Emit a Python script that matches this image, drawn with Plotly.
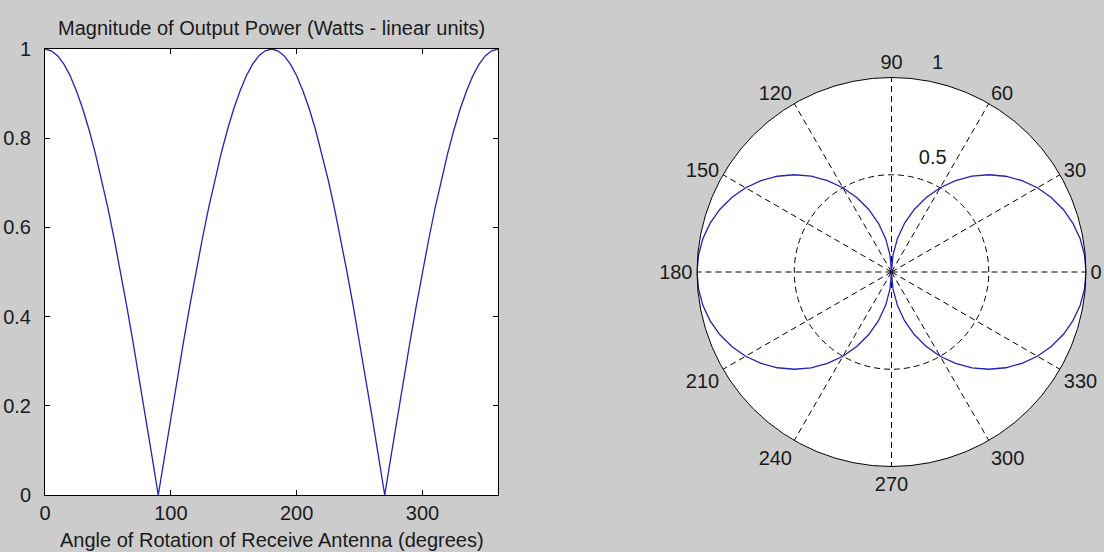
import plotly.graph_objects as go

# Rotation angle of the receive antenna (degrees)
angle_deg = [0, 5, 10, 15, 20, 25, 30, 35, 40, 45, 50, 55, 60, 65, 70, 75, 80, 85,
             90, 95, 100, 105, 110, 115, 120, 125, 130, 135, 140, 145, 150, 155, 160, 165, 170, 175,
             180, 185, 190, 195, 200, 205, 210, 215, 220, 225, 230, 235, 240, 245, 250, 255, 260, 265,
             270, 275, 280, 285, 290, 295, 300, 305, 310, 315, 320, 325, 330, 335, 340, 345, 350, 355,
             360]

# Magnitude of output power (W, linear units)
power_w = [1.000, 0.996, 0.985, 0.966, 0.940, 0.906, 0.866, 0.819, 0.766, 0.707, 0.643, 0.574, 0.500, 0.423,
           0.342, 0.259, 0.174, 0.087,
           0.000, 0.087, 0.174, 0.259, 0.342, 0.423, 0.500, 0.574, 0.643, 0.707, 0.766, 0.819, 0.866, 0.906,
           0.940, 0.966, 0.985, 0.996,
           1.000, 0.996, 0.985, 0.966, 0.940, 0.906, 0.866, 0.819, 0.766, 0.707, 0.643, 0.574, 0.500, 0.423,
           0.342, 0.259, 0.174, 0.087,
           0.000, 0.087, 0.174, 0.259, 0.342, 0.423, 0.500, 0.574, 0.643, 0.707, 0.766, 0.819, 0.866, 0.906,
           0.940, 0.966, 0.985, 0.996,
           1.000]

x_ticks = [0, 100, 200, 300]
y_ticks = [0, 0.2, 0.4, 0.6, 0.8, 1]
y_tick_text = ["0", "0.2", "0.4", "0.6", "0.8", "1"]

polar_angles = [0, 30, 60, 90, 120, 150, 180, 210, 240, 270, 300, 330]
polar_angle_text = [str(a) for a in polar_angles]
inner_ring_label = "0.5"
outer_ring_label = "1"

LINE = "#2222b4"
FONT = dict(family="Liberation Sans, Arial, sans-serif", size=20, color="#1a1a1a")
W, H = 1104, 552

fig = go.Figure()

# Cartesian magnitude plot
fig.add_trace(go.Scatter(
    x=angle_deg, y=power_w, mode="lines",
    line=dict(color=LINE, width=1.3),
    xaxis="x", yaxis="y", showlegend=False, hoverinfo="skip",
))

# Polar pattern of the same data
fig.add_trace(go.Scatterpolar(
    r=power_w, theta=angle_deg, mode="lines",
    line=dict(color=LINE, width=1.3),
    subplot="polar", showlegend=False, hoverinfo="skip",
))

# Inner ring label
fig.add_trace(go.Scatterpolar(
    r=[0.62], theta=[70], mode="text",
    text=[inner_ring_label], textfont=FONT, cliponaxis=False,
    subplot="polar", showlegend=False, hoverinfo="skip",
))

left_px, right_px, top_px, bottom_px = 45, 498, 49, 495
cx, cy, rad = 891.5, 272, 194.5

fig.update_layout(
    width=W, height=H, autosize=False,
    margin=dict(l=0, r=0, t=0, b=0, autoexpand=False),
    paper_bgcolor="#cccccc",
    plot_bgcolor="white",
    font=FONT,
    xaxis=dict(
        domain=[left_px / W, right_px / W],
        range=[0, 360], tickvals=x_ticks, automargin=False,
        showline=True, linecolor="black", linewidth=1, mirror="ticks",
        ticks="inside", ticklen=5, tickcolor="black",
        showgrid=False, zeroline=False, ticklabelstandoff=0,
    ),
    yaxis=dict(
        domain=[1 - bottom_px / H, 1 - top_px / H],
        range=[0, 1], tickvals=y_ticks, ticktext=y_tick_text, automargin=False,
        showline=True, linecolor="black", linewidth=1, mirror="ticks",
        ticks="inside", ticklen=5, tickcolor="black",
        showgrid=False, zeroline=False, ticklabelstandoff=9,
    ),
    polar=dict(
        domain=dict(x=[(cx - rad) / W, (cx + rad) / W],
                    y=[1 - (cy + rad) / H, 1 - (cy - rad) / H]),
        bgcolor="white",
        radialaxis=dict(
            range=[0, 1], tickvals=[0.5], showticklabels=False, ticks="",
            showline=False, showgrid=True, gridcolor="black", gridwidth=1,
            griddash="6px,4px",
        ),
        angularaxis=dict(
            rotation=0, direction="counterclockwise",
            tickmode="array", tickvals=polar_angles, ticktext=polar_angle_text,
            ticks="", showline=True, linecolor="black", linewidth=1,
            showgrid=True, gridcolor="black", gridwidth=1, griddash="6px,4px",
            tickfont=FONT,
        ),
    ),
    annotations=[
        dict(text="Magnitude of Output Power (Watts - linear units)",
             x=(left_px + right_px) / 2 / W, y=1 - 28 / H,
             xref="paper", yref="paper", xanchor="center", yanchor="middle",
             showarrow=False, font=FONT),
        dict(text="Angle of Rotation of Receive Antenna (degrees)",
             x=(left_px + right_px) / 2 / W, y=1 - 540 / H,
             xref="paper", yref="paper", xanchor="center", yanchor="middle",
             showarrow=False, font=FONT),
        # outer ring label, just outside the circle
        dict(text=outer_ring_label,
             x=937 / W, y=1 - 62 / H,
             xref="paper", yref="paper", xanchor="center", yanchor="middle",
             showarrow=False, font=FONT),
    ],
)

fig.write_html("out.html")
